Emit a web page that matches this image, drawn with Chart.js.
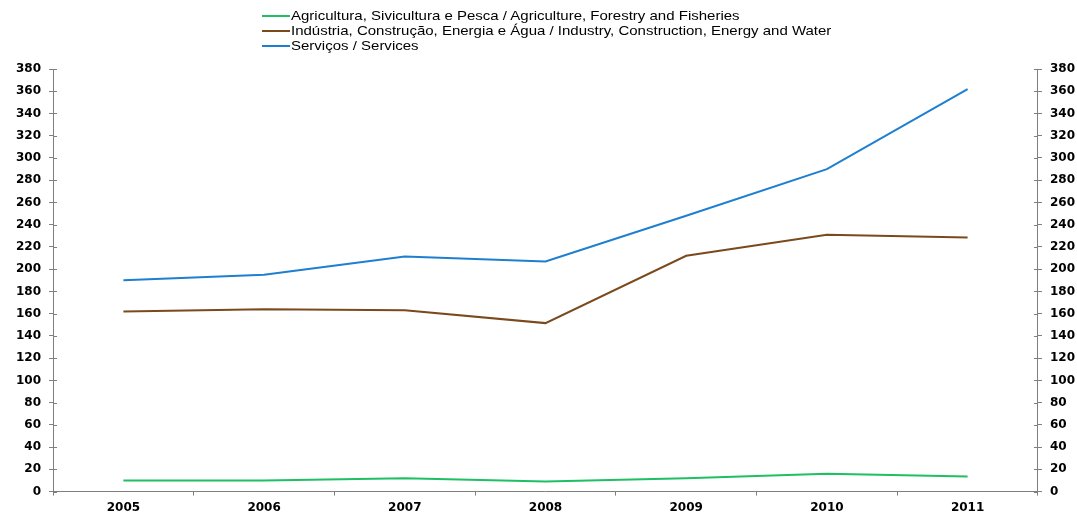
<!DOCTYPE html>
<html>
<head>
<meta charset="utf-8">
<script src="https://cdn.jsdelivr.net/npm/chart.js@4"></script>
<style>
  html, body { margin: 0; padding: 0; background: #fff; overflow: hidden; }
  #wrap { position: relative; width: 1077px; height: 513px; overflow: hidden; }
  #legend { position: absolute; left: 262px; top: 8px; font: 13px "Liberation Sans", Arial, sans-serif; color: #000; }
  #legend div { height: 15px; line-height: 15px; white-space: nowrap; }
  #legend span.swatch { display: inline-block; width: 28px; height: 2px; vertical-align: middle; margin-right: 1px; position: relative; top: -1px; }
  #legend span.txt { display: inline-block; transform: scaleX(1.154); transform-origin: left center; }
</style>
</head>
<body>
<div id="wrap">
  <canvas id="grafico" width="1083" height="520"></canvas>
  <div id="legend"></div>
</div>
<script>
// dados
const anos = ['2005', '2006', '2007', '2008', '2009', '2010', '2011'];
const agricultura = [10, 10, 12, 9, 12, 16, 13.5];
const industria = [162, 164, 163, 151.5, 212, 231, 228.5];
const servicos = [190, 195, 211.5, 207, 248, 290, 362];

const nomes = [
    'Agricultura, Sivicultura e Pesca / Agriculture, Forestry and Fisheries',
    'Indústria, Construção, Energia e Água / Industry, Construction, Energy and Water',
    'Serviços / Services'
];
const cores = ['#1fbf63', '#7a4a1c', '#1e7fd0'];

const fonteTicks = { family: '"DejaVu Sans", sans-serif', size: 12, weight: 'bold' };
const eixoY = {
    min: 0,
    max: 380,
    ticks: { stepSize: 20, color: '#000', font: fonteTicks, padding: 8 },
    grid: { drawOnChartArea: false, drawTicks: true, tickLength: 4, color: '#7f7f7f' },
    border: { color: '#7f7f7f', width: 1 }
};

// tracinhos dos ticks para dentro da área (cruzando o eixo)
const ticksCruzados = {
    id: 'ticksCruzados',
    afterDraw(chart) {
        const ctx = chart.ctx;
        const area = chart.chartArea;
        ctx.save();
        ctx.strokeStyle = '#7f7f7f';
        ctx.lineWidth = 1;
        ctx.beginPath();
        ['y', 'y2'].forEach(id => {
            const s = chart.scales[id];
            const x = id === 'y' ? area.left : area.right;
            const d = id === 'y' ? 4 : -4;
            s.ticks.forEach(t => {
                const py = Math.round(s.getPixelForValue(t.value)) + 0.5;
                ctx.moveTo(x, py);
                ctx.lineTo(x + d, py);
            });
        });
        ctx.stroke();
        ctx.restore();
    }
};

let grafico = new Chart('grafico', {
    type: 'line',
    data: {
        labels: anos,
        datasets: [agricultura, industria, servicos].map((valores, i) => ({
            label: nomes[i],
            data: valores,
            borderColor: cores[i],
            backgroundColor: cores[i],
            borderWidth: 2,
            pointRadius: 0,
            tension: 0,
            yAxisID: 'y'
        }))
    },
    options: {
        responsive: false,
        animation: false,
        layout: { padding: { top: 69, right: 0, left: 8, bottom: 0 } },
        plugins: {
            legend: { display: false },
            tooltip: { enabled: false }
        },
        scales: {
            x: {
                offset: true,
                ticks: { color: '#000', font: fonteTicks, padding: 5 },
                grid: { offset: true, drawOnChartArea: false, drawTicks: true, tickLength: 4, color: '#7f7f7f' },
                border: { color: '#7f7f7f', width: 1 }
            },
            y: Object.assign({ position: 'left' }, eixoY),
            y2: Object.assign({ position: 'right', display: true }, eixoY)
        }
    },
    plugins: [ticksCruzados]
});

//legenda em HTML
document.querySelector('#legend').innerHTML = nomes.map((n, i) =>
    `<div><span class="swatch" style="background:${cores[i]}"></span><span class="txt">${n}</span></div>`).join('');
</script>
</body>
</html>
